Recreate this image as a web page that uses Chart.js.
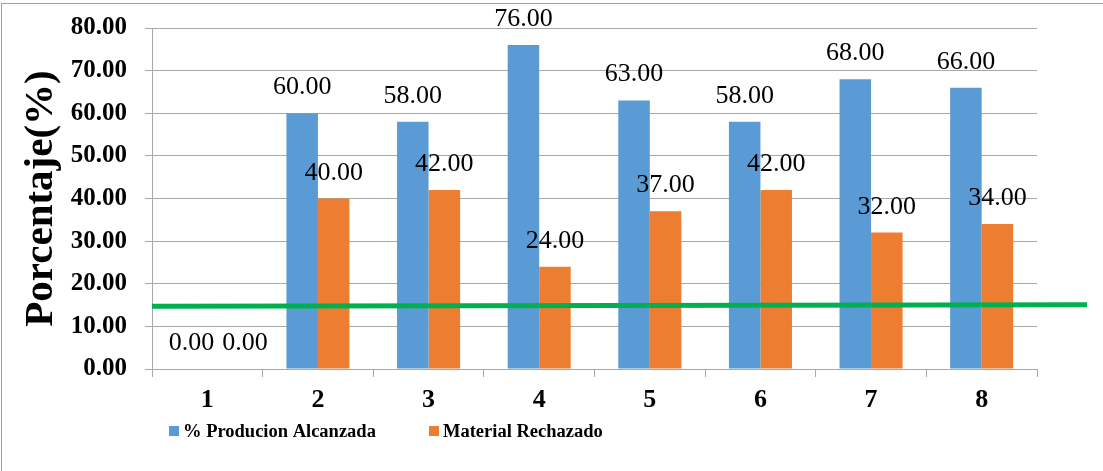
<!DOCTYPE html>
<html>
<head>
<meta charset="utf-8">
<script src="https://cdn.jsdelivr.net/npm/chart.js@4.4.1/dist/chart.umd.min.js"></script>
<style>
  body { margin: 0; background: #fff; }
  #wrap { position: relative; width: 1103px; height: 471px; }
  #frame { position: absolute; left: 1px; top: 3px; right: 0; bottom: 0; border-left: 1px solid #a0a0a0; border-top: 1px solid #a0a0a0; }
  canvas { position: absolute; left: 0; top: 0; }
</style>
</head>
<body>
<div id="wrap">
  <div id="frame"></div>
  <canvas id="chart" width="1103" height="471"></canvas>
</div>
<script>
// datos del grafico
const categorias = ['1', '2', '3', '4', '5', '6', '7', '8'];
const produccion = [0, 60, 58, 76, 63, 58, 68, 66];
const rechazado = [0, 40, 42, 24, 37, 42, 32, 34];
const lineaVerde = [14.75, 15.05]; // inicio y fin de la linea verde
const serieNombres = ['% Producion Alcanzada', 'Material Rechazado'];

const serif = "'Liberation Serif', 'Times New Roman', serif";
const gris = '#a8a8a8';

// etiquetas de valor encima de cada barra
const etiquetas = {
    id: 'etiquetas',
    afterDatasetsDraw(chart) {
        const ctx = chart.ctx;
        ctx.save();
        ctx.font = '26px ' + serif;
        ctx.fillStyle = '#000';
        ctx.textBaseline = 'alphabetic';
        ctx.textAlign = 'left';
        const n = chart.data.labels.length;
        for (let i = 0; i < n; i++) {
            let prevRight = -Infinity, prevY = null;
            chart.data.datasets.forEach((ds, d) => {
                const bar = chart.getDatasetMeta(d).data[i];
                const txt = ds.data[i].toFixed(2);
                const w = ctx.measureText(txt).width;
                const y = bar.y - 19;
                let x = bar.x - w / 2;
                if (prevY !== null && Math.abs(prevY - y) < 20 && x < prevRight + 8) {
                    x = prevRight + 8;
                }
                ctx.fillText(txt, x, y);
                prevRight = x + w;
                prevY = y;
            });
        }
        ctx.restore();
    }
};

// linea verde horizontal
const lineaMeta = {
    id: 'lineaMeta',
    afterDatasetsDraw(chart, args, opts) {
        const { ctx, chartArea } = chart;
        const y = chart.scales.y;
        ctx.save();
        ctx.strokeStyle = '#00b050';
        ctx.lineWidth = 5;
        ctx.beginPath();
        ctx.moveTo(chartArea.left, y.getPixelForValue(lineaVerde[0]));
        ctx.lineTo(chartArea.right + opts.extra, y.getPixelForValue(lineaVerde[1]));
        ctx.stroke();
        ctx.restore();
    }
};

// leyenda abajo
const leyenda = {
    id: 'leyenda',
    afterDraw(chart, args, opts) {
        const ctx = chart.ctx;
        ctx.save();
        ctx.font = 'bold 18.5px ' + serif;
        ctx.textBaseline = 'middle';
        ctx.textAlign = 'left';
        chart.data.datasets.forEach((ds, d) => {
            const x = opts.x[d];
            ctx.fillStyle = ds.backgroundColor;
            ctx.fillRect(x, opts.y - 5, 10, 10);
            ctx.fillStyle = '#000';
            ctx.fillText(ds.label, x + 14, opts.y + 1);
        });
        ctx.restore();
    }
};

const ctx = document.getElementById('chart').getContext('2d');
const chart = new Chart(ctx, {
    type: 'bar',
    data: {
        labels: categorias,
        datasets: [
            {
                label: serieNombres[0],
                data: produccion,
                backgroundColor: '#5b9bd5',
                categoryPercentage: 0.57,
                barPercentage: 1,
            },
            {
                label: serieNombres[1],
                data: rechazado,
                backgroundColor: '#ed7d31',
                categoryPercentage: 0.57,
                barPercentage: 1,
            },
        ],
    },
    options: {
        responsive: false,
        animation: false,
        layout: { padding: { top: 28, right: 66, left: 0, bottom: 0 } },
        scales: {
            x: {
                offset: true,
                grid: { offset: true, drawOnChartArea: false, tickLength: 8, color: gris },
                border: { color: gris },
                ticks: { color: '#000', padding: 8, font: { family: serif, size: 26, weight: 'bold' } },
                afterFit(scale) { scale.height = 102; },
            },
            y: {
                min: 0,
                max: 80,
                grid: { tickLength: 7, color: gris },
                border: { color: gris },
                ticks: {
                    stepSize: 10,
                    color: '#000',
                    padding: 18,
                    font: { family: serif, size: 25, weight: 'bold' },
                    callback: v => v.toFixed(2),
                },
                title: {
                    display: true,
                    text: 'Porcentaje(%)',
                    color: '#000',
                    padding: { top: 17, bottom: 0 },
                    font: { family: serif, size: 41, weight: 'bold' },
                },
                afterFit(scale) {
                    scale.width = 152;
                    scale.paddingTop = 0;
                    scale.paddingBottom = 0;
                },
            },
        },
        plugins: {
            legend: { display: false },
            tooltip: { enabled: false },
            lineaMeta: { extra: 50 },
            leyenda: { x: [169, 429], y: 431 },
        },
    },
    plugins: [lineaMeta, etiquetas, leyenda],
});
</script>
</body>
</html>
